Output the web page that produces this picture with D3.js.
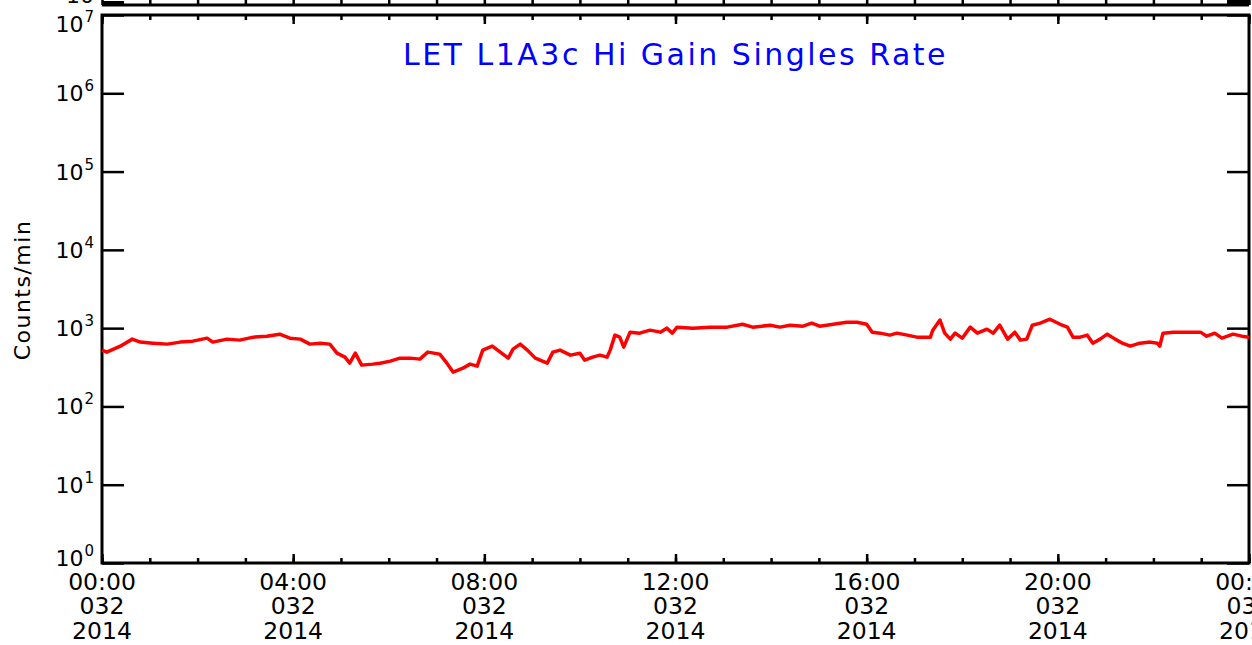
<!DOCTYPE html>
<html>
<head>
<meta charset="utf-8">
<script src="https://cdn.jsdelivr.net/npm/d3@7"></script>
<style>
  body { margin: 0; background: #fff; }
  svg { display: block; font-family: "DejaVu Sans", sans-serif; }
  .domain { display: none; }
</style>
</head>
<body>
<div id="chart"></div>
<script>
// minutes after 00:00 on day 032 of 2014
var minutes = [0, 6, 23, 38, 48, 64, 82, 98, 114, 132, 139, 157, 173, 190, 207, 223, 236, 249, 261, 274, 286,
  295, 305, 311, 318, 326, 340, 349, 362, 374, 387, 399, 409, 424, 433, 441, 453, 462, 471, 478, 490, 500, 510, 516, 525, 534, 544, 559, 566, 575,
  588, 600, 606, 616, 625, 634, 638, 644, 650, 655, 663, 675, 688, 701, 709, 716, 722, 742, 763, 785, 804, 817, 839, 851, 864,
  880, 891, 901, 918, 935, 948, 960, 967, 977, 989, 998, 1011, 1023, 1040, 1043, 1052, 1058, 1065, 1071, 1080, 1090, 1099, 1111, 1119, 1127, 1137, 1146, 1153,
  1161, 1168, 1178, 1190, 1203, 1212, 1219, 1228, 1237, 1244, 1253, 1262, 1272, 1281, 1291, 1303, 1316, 1325, 1328, 1332, 1345, 1362, 1379, 1387, 1397, 1406, 1420, 1431, 1440];

// counts/min
var counts = [524, 494, 589, 724, 663, 643, 625, 663, 682, 745, 663, 724, 703, 767, 790, 838, 745, 724, 625, 643, 625,
  479, 426, 357, 479, 337, 347, 357, 379, 414, 414, 402, 494, 466, 357, 274, 308, 347, 327, 524, 589, 494, 414, 540, 625, 524, 414, 357, 494, 524,
  452, 479, 390, 426, 452, 426, 524, 814, 767, 572, 889, 863, 943, 889, 1000, 863, 1030, 1000, 1030, 1030, 1120, 1030, 1090, 1030, 1090,
  1060, 1160, 1060, 1120, 1190, 1190, 1120, 889, 863, 814, 863, 814, 767, 767, 943, 1270, 863, 724, 863, 745, 1030, 863, 971, 863, 1090, 724, 889, 703,
  724, 1090, 1160, 1300, 1120, 1030, 767, 767, 814, 643, 724, 838, 724, 643, 589, 643, 663, 643, 589, 863, 889, 889, 889, 790, 863, 745, 838, 790, 767];

var yTickValues = [1, 10, 100, 1e3, 1e4, 1e5, 1e6, 1e7];
var titleText = "LET L1A3c Hi Gain Singles Rate";
var yLabel = "Counts/min";

var svgWidth = 1252;
var svgHeight = 645;
var margin = {top: 15, right: 3, bottom: 82, left: 102};
var chartWidth = svgWidth - margin.left - margin.right;
var chartHeight = svgHeight - margin.top - margin.bottom;

var svg = d3.select("#chart").append("svg")
  .attr("width", svgWidth)
  .attr("height", svgHeight);

var day0 = Date.UTC(2014, 0, 32);
var start = new Date(day0), end = new Date(day0 + 864e5);

var xScale = d3.scaleUtc().domain([start, end]).range([0, chartWidth]);
var yScale = d3.scaleLog().domain([1, 1e7]).range([chartHeight, 0]);

var majorTicks = d3.utcHour.every(4).range(start, new Date(+end + 1));
var minorTicks = d3.utcHour.range(start, new Date(+end + 1));

// bottom strip of the panel above
var upper = svg.append("g").attr("transform", `translate(${margin.left}, 5)`);
upper.append("g").call(d3.axisTop(xScale).tickValues(minorTicks).tickSize(6).tickFormat(""))
  .selectAll("line").attr("stroke", "#000").attr("stroke-width", 2.5);
upper.append("line").attr("x1", 0).attr("x2", chartWidth).attr("y1", 0).attr("y2", 0)
  .attr("stroke", "#000").attr("stroke-width", 3);
upper.append("line").attr("x1", 0).attr("x2", 22).attr("y1", -2).attr("y2", -2)
  .attr("stroke", "#000").attr("stroke-width", 4);
upper.append("line").attr("x1", chartWidth - 22).attr("x2", chartWidth).attr("y1", -3).attr("y2", -3)
  .attr("stroke", "#000").attr("stroke-width", 4);
upper.append("text").attr("x", -8).attr("y", -2).attr("text-anchor", "end")
  .style("font-size", "22px").text("10");

var chartGroup = svg.append("g")
  .attr("transform", `translate(${margin.left}, ${margin.top})`);

function styleTicks(g) {
  g.selectAll("line").attr("stroke", "#000").attr("stroke-width", 2.5);
}

// x ticks, bottom and top
chartGroup.append("g").attr("transform", `translate(0, ${chartHeight})`)
  .call(d3.axisBottom(xScale).tickValues(minorTicks).tickSize(-5).tickFormat("")).call(styleTicks);
chartGroup.append("g").attr("transform", `translate(0, ${chartHeight})`)
  .call(d3.axisBottom(xScale).tickValues(majorTicks).tickSize(-9).tickFormat("")).call(styleTicks);
chartGroup.append("g")
  .call(d3.axisTop(xScale).tickValues(minorTicks).tickSize(-5).tickFormat("")).call(styleTicks);
chartGroup.append("g")
  .call(d3.axisTop(xScale).tickValues(majorTicks).tickSize(-9).tickFormat("")).call(styleTicks);

// y ticks, left and right
chartGroup.append("g")
  .call(d3.axisLeft(yScale).tickValues(yTickValues).tickSize(-22).tickFormat("")).call(styleTicks);
chartGroup.append("g").attr("transform", `translate(${chartWidth}, 0)`)
  .call(d3.axisRight(yScale).tickValues(yTickValues).tickSize(-22).tickFormat("")).call(styleTicks);

// frame
chartGroup.append("rect")
  .attr("width", chartWidth).attr("height", chartHeight)
  .attr("fill", "none").attr("stroke", "#000").attr("stroke-width", 3);

// x labels: time / day-of-year / year
var fmtTime = d3.utcFormat("%H:%M"), fmtDoy = d3.utcFormat("%j"), fmtYear = d3.utcFormat("%Y");
var xl = chartGroup.append("g").selectAll("text")
  .data(majorTicks)
  .enter()
  .append("text")
  .attr("text-anchor", "middle")
  .attr("y", chartHeight + 27)
  .style("font-size", "23.5px");
xl.append("tspan").attr("x", d => xScale(d)).text(fmtTime);
xl.append("tspan").attr("x", d => xScale(d)).attr("dy", 24).text(fmtDoy);
xl.append("tspan").attr("x", d => xScale(d)).attr("dy", 24.5).text(fmtYear);

// y labels 10^n
var yl = chartGroup.append("g").selectAll("text")
  .data(yTickValues)
  .enter()
  .append("text")
  .attr("text-anchor", "end")
  .attr("x", -8)
  .attr("y", function (d) {
    if (d === 1e7) return yScale(d) + 17;
    if (d === 1) return yScale(d) + 3;
    return yScale(d) + 8;
  })
  .style("font-size", "22px");
yl.append("tspan").text("10");
yl.append("tspan").attr("dx", 1).attr("dy", -10).style("font-size", "15px")
  .text(d => Math.round(Math.log10(d)));

// data line
var series = minutes.map((m, i) => ({t: new Date(day0 + m * 60000), v: counts[i]}));
var line = d3.line()
  .x(d => xScale(d.t))
  .y(d => yScale(d.v));
chartGroup.append("path")
  .datum(series)
  .attr("d", line)
  .attr("fill", "none")
  .attr("stroke", "#ff0000")
  .attr("stroke-width", 3.5)
  .attr("stroke-linejoin", "round");

// title
svg.append("text")
  .attr("x", margin.left + chartWidth / 2)
  .attr("y", 65)
  .attr("text-anchor", "middle")
  .attr("fill", "#0000ff")
  .style("font-size", "30px")
  .style("letter-spacing", "2.5px")
  .text(titleText);

// y axis title
svg.append("text")
  .attr("transform", "rotate(-90)")
  .attr("x", -290)
  .attr("y", 30)
  .attr("text-anchor", "middle")
  .style("font-size", "22px")
  .style("letter-spacing", "1.5px")
  .text(yLabel);
</script>
</body>
</html>
